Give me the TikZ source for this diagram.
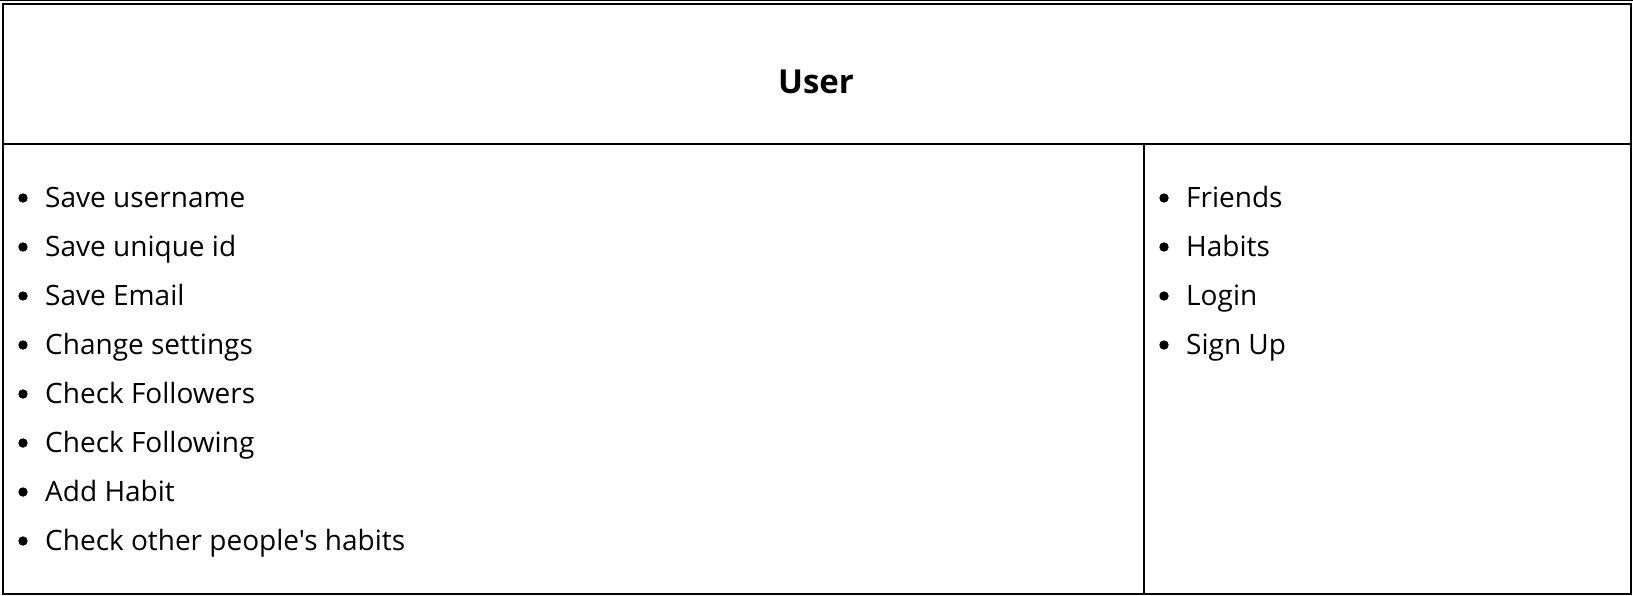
\documentclass[tikz,border=0pt]{standalone}
\usepackage{fontspec}
\setmainfont{Open Sans}[Ligatures=TeXOff]
\begin{document}
\begin{tikzpicture}[x=1pt,y=-1pt,
  frame/.style={draw=black,line width=2pt},
  item/.style={anchor=base west,inner sep=0pt,font=\fontsize{28}{28}\selectfont},
  dot/.style={fill=black},
  title/.style={anchor=base,inner sep=0pt,font=\fontsize{33}{33}\selectfont\bfseries}]
\useasboundingbox (0,0) rectangle (1633,595);
\draw[line width=1pt] (0,0.5) -- (1633,0.5);
\draw[frame] (2.7,4.2) rectangle (1631.3,594);
\draw[frame] (2.7,144.3) -- (1631.3,144.3);
\draw[frame] (1143.7,144.3) -- (1143.7,594);
\node[title] (user) at (816,93.3) {User};
\foreach \t [count=\i from 0] in {Save username,Save unique id,Save Email,Change settings,Check Followers,Check Following,Add Habit,Check other people's habits}{
  \node[item] (l\i) at (45,207+49*\i) {\t};
  \fill[dot] (23,198+49*\i) circle (4.7);
}
\foreach \t [count=\i from 0] in {Friends,Habits,Login,Sign Up}{
  \node[item] (r\i) at (1186,207+49*\i) {\t};
  \fill[dot] (1164,198+49*\i) circle (4.7);
}
\end{tikzpicture}
\end{document}
